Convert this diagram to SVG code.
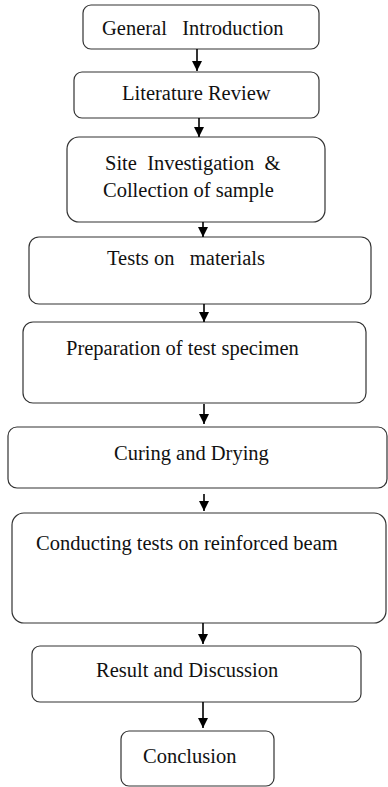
<svg xmlns="http://www.w3.org/2000/svg" width="388" height="787" viewBox="0 0 388 787">
<defs>
<marker id="ah" viewBox="0 0 10 10" refX="10" refY="5" markerWidth="10" markerHeight="10" markerUnits="userSpaceOnUse" orient="auto">
<path d="M0,0 L10,5 L0,10 Z" fill="#000"/>
</marker>
</defs>
<rect x="0" y="0" width="388" height="787" fill="#fff"/>
<g id="n1"><rect x="83" y="5" width="236" height="44" rx="8" fill="#fff" stroke="#333" stroke-width="1.2"/><text x="102" y="35" font-size="20.5" font-family="Liberation Serif" fill="#111" xml:space="preserve">General   Introduction</text></g>
<g id="n2"><rect x="74" y="72" width="245" height="46" rx="8" fill="#fff" stroke="#333" stroke-width="1.2"/><text x="122" y="100" font-size="20.5" font-family="Liberation Serif" fill="#111">Literature Review</text></g>
<g id="n3"><rect x="67" y="137" width="258" height="85" rx="12" fill="#fff" stroke="#333" stroke-width="1.2"/><text x="105" y="170" font-size="20.5" font-family="Liberation Serif" fill="#111" xml:space="preserve">Site  Investigation  &amp;</text><text x="103" y="197" font-size="20.5" font-family="Liberation Serif" fill="#111">Collection of sample</text></g>
<g id="n4"><rect x="29" y="237" width="342" height="67" rx="10" fill="#fff" stroke="#333" stroke-width="1.2"/><text x="107" y="265" font-size="20.5" font-family="Liberation Serif" fill="#111" xml:space="preserve">Tests on   materials</text></g>
<g id="n5"><rect x="23" y="322" width="343" height="81" rx="10" fill="#fff" stroke="#333" stroke-width="1.2"/><text x="66" y="355" font-size="20.5" font-family="Liberation Serif" fill="#111">Preparation of test specimen</text></g>
<g id="n6"><rect x="8" y="427" width="379" height="61" rx="9" fill="#fff" stroke="#333" stroke-width="1.2"/><text x="114" y="460" font-size="20.5" font-family="Liberation Serif" fill="#111">Curing and Drying</text></g>
<g id="n7"><rect x="12" y="513" width="374" height="110" rx="12" fill="#fff" stroke="#333" stroke-width="1.2"/><text x="36" y="550" font-size="20.5" font-family="Liberation Serif" fill="#111">Conducting tests on reinforced beam</text></g>
<g id="n8"><rect x="32" y="646" width="329" height="56" rx="8" fill="#fff" stroke="#333" stroke-width="1.2"/><text x="96" y="677" font-size="20.5" font-family="Liberation Serif" fill="#111">Result and Discussion</text></g>
<g id="n9"><rect x="121" y="731" width="153" height="55" rx="8" fill="#fff" stroke="#333" stroke-width="1.2"/><text x="143" y="763" font-size="20.5" font-family="Liberation Serif" fill="#111">Conclusion</text></g>
<g id="connectors" stroke="#000" stroke-width="1.6">
<line x1="197" y1="49" x2="197" y2="71" marker-end="url(#ah)"/>
<line x1="199" y1="118" x2="199" y2="137" marker-end="url(#ah)"/>
<line x1="203" y1="222" x2="203" y2="237" marker-end="url(#ah)"/>
<line x1="204" y1="304" x2="204" y2="322" marker-end="url(#ah)"/>
<line x1="204" y1="404" x2="204" y2="424" marker-end="url(#ah)"/>
<line x1="204" y1="494" x2="204" y2="511" marker-end="url(#ah)"/>
<line x1="203" y1="623" x2="203" y2="644" marker-end="url(#ah)"/>
<line x1="203" y1="702" x2="203" y2="728" marker-end="url(#ah)"/>
</g>
</svg>
